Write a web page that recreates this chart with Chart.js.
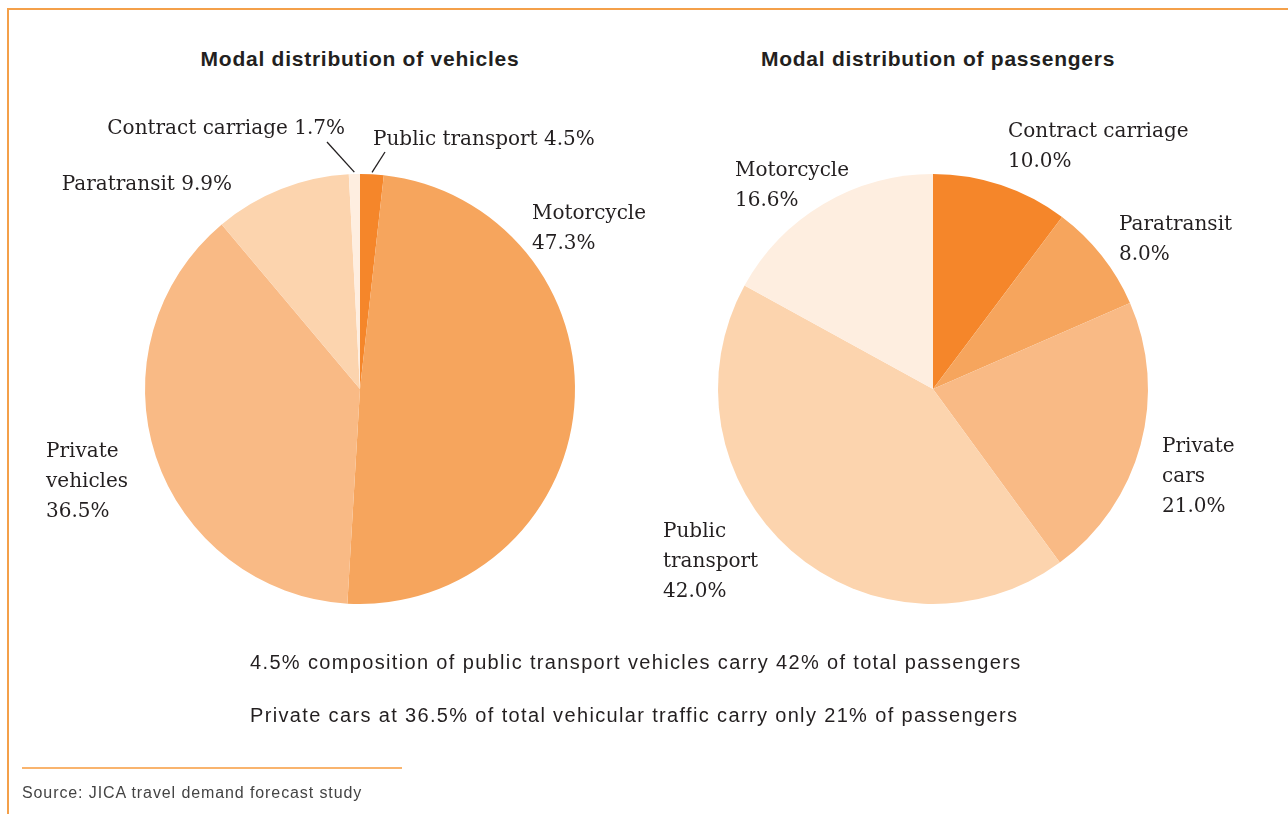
<!DOCTYPE html>
<html>
<head>
<meta charset="utf-8">
<script src="https://cdn.jsdelivr.net/npm/chart.js@4.4.1/dist/chart.umd.min.js"></script>
<style>
  html, body { margin: 0; padding: 0; background: #fff; }
  body { width: 1288px; height: 814px; position: relative; overflow: hidden; font-family: "Liberation Sans", Arial, sans-serif; color: #231f20; }
  .frame { position: absolute; left: 7px; top: 8px; right: 0; bottom: -4px; border-top: 2px solid #f4a04a; border-left: 2px solid #f4a04a; }
  .title { position: absolute; top: 47px; font-weight: bold; font-size: 21px; letter-spacing: 0.75px; text-align: center; width: 500px; }
  .note { position: absolute; left: 250px; font-size: 20px; letter-spacing: 1.35px; }
  .rule { position: absolute; left: 22px; top: 767px; width: 380px; height: 0; border-top: 2px solid #f9b46e; }
  .source { position: absolute; left: 22px; top: 784px; font-size: 16px; letter-spacing: 0.9px; color: #444; }
  .pie { position: absolute; top: 0; height: 814px; }
</style>
</head>
<body>
<div class="frame"></div>
<div class="title" style="left:110px">Modal distribution of vehicles</div>
<div class="title" style="left:688px">Modal distribution of passengers</div>
<div class="pie" style="left:0; width:700px"><canvas id="vehiclesChart"></canvas></div>
<div class="pie" style="left:644px; width:644px"><canvas id="passengersChart"></canvas></div>
<div class="note" style="top:651px">4.5% composition of public transport vehicles carry 42% of total passengers</div>
<div class="note" style="top:704px">Private cars at 36.5% of total vehicular traffic carry only 21% of passengers</div>
<div class="rule"></div>
<div class="source">Source: JICA travel demand forecast study</div>

<script>
// vehicles: slices clockwise from 12 o'clock, sizes as drawn in the source
const vehicleModes = ['Public transport', 'Motorcycle', 'Private vehicles', 'Paratransit', 'Contract carriage'];
const vehicleShares = [1.7, 47.3, 36.5, 9.9, 0.8];
const vehicleLabelPct = ['4.5%', '47.3%', '36.5%', '9.9%', '1.7%'];

// passengers
const passengerModes = ['Contract carriage', 'Paratransit', 'Private cars', 'Public transport', 'Motorcycle'];
const passengerShares = [10.0, 8.0, 21.0, 42.0, 16.6];
const passengerLabelPct = ['10.0%', '8.0%', '21.0%', '42.0%', '16.6%'];

const oranges = ['#f5862a', '#f6a55d', '#f9ba85', '#fcd4ae', '#feeee0'];

// label text: 'inline' = one line, 'name' = name then pct, 'words' = each word then pct
const makeLines = (name, pct, mode) => {
  if (mode === 'inline') return [name + ' ' + pct];
  if (mode === 'name') return [name, pct];
  return name.split(' ').concat([pct]);
};

const sliceLabels = {
  id: 'sliceLabels',
  afterDatasetsDraw(chart, args, opts) {
    const ctx = chart.ctx;
    const meta = chart.getDatasetMeta(0);
    const names = chart.data.labels;
    ctx.save();
    ctx.font = '20px "DejaVu Serif", Georgia, serif';
    ctx.fillStyle = '#231f20';
    ctx.textBaseline = 'middle';
    meta.data.forEach((arc, i) => {
      const p = opts.place[i];
      const cx = arc.x, cy = arc.y;
      const lines = makeLines(names[i], opts.pct[i], p.mode);
      ctx.textAlign = p.align;
      lines.forEach((t, k) => ctx.fillText(t, cx + p.dx, cy + p.dy + 2 + k * 30));
      if (p.leader) {
        const mid = (arc.startAngle + arc.endAngle) / 2;
        const r = arc.outerRadius + 2;
        ctx.beginPath();
        ctx.strokeStyle = '#231f20';
        ctx.lineWidth = 1.3;
        ctx.moveTo(cx + p.leader[0], cy + p.leader[1]);
        ctx.lineTo(cx + Math.cos(mid) * r, cy + Math.sin(mid) * r);
        ctx.stroke();
      }
    });
    ctx.restore();
  }
};

const makePie = (id, modes, shares, pct, padding, place) => {
  const ctx = document.getElementById(id).getContext('2d');
  return new Chart(ctx, {
    type: 'pie',
    data: {
      labels: modes,
      datasets: [{
        data: shares,
        backgroundColor: oranges,
        borderWidth: 0,
      }],
    },
    options: {
      responsive: true,
      maintainAspectRatio: false,
      animation: false,
      layout: { padding: padding },
      plugins: {
        legend: { display: false },
        tooltip: { enabled: false },
        sliceLabels: { pct: pct, place: place },
      },
    },
    plugins: [sliceLabels],
  });
};

makePie('vehiclesChart', vehicleModes, vehicleShares, vehicleLabelPct,
  { left: 145, right: 125, top: 174, bottom: 210 },
  [
    { mode: 'inline', align: 'left', dx: 13, dy: -251, leader: [25, -237] },
    { mode: 'name', align: 'left', dx: 172, dy: -177 },
    { mode: 'words', align: 'left', dx: -314, dy: 61 },
    { mode: 'inline', align: 'right', dx: -128, dy: -206 },
    { mode: 'inline', align: 'right', dx: -15, dy: -262, leader: [-33, -247] },
  ]);

makePie('passengersChart', passengerModes, passengerShares, passengerLabelPct,
  { left: 74, right: 140, top: 174, bottom: 210 },
  [
    { mode: 'name', align: 'left', dx: 75, dy: -259 },
    { mode: 'name', align: 'left', dx: 186, dy: -166 },
    { mode: 'words', align: 'left', dx: 229, dy: 56 },
    { mode: 'words', align: 'left', dx: -270, dy: 141 },
    { mode: 'name', align: 'left', dx: -198, dy: -220 },
  ]);
</script>
</body>
</html>
